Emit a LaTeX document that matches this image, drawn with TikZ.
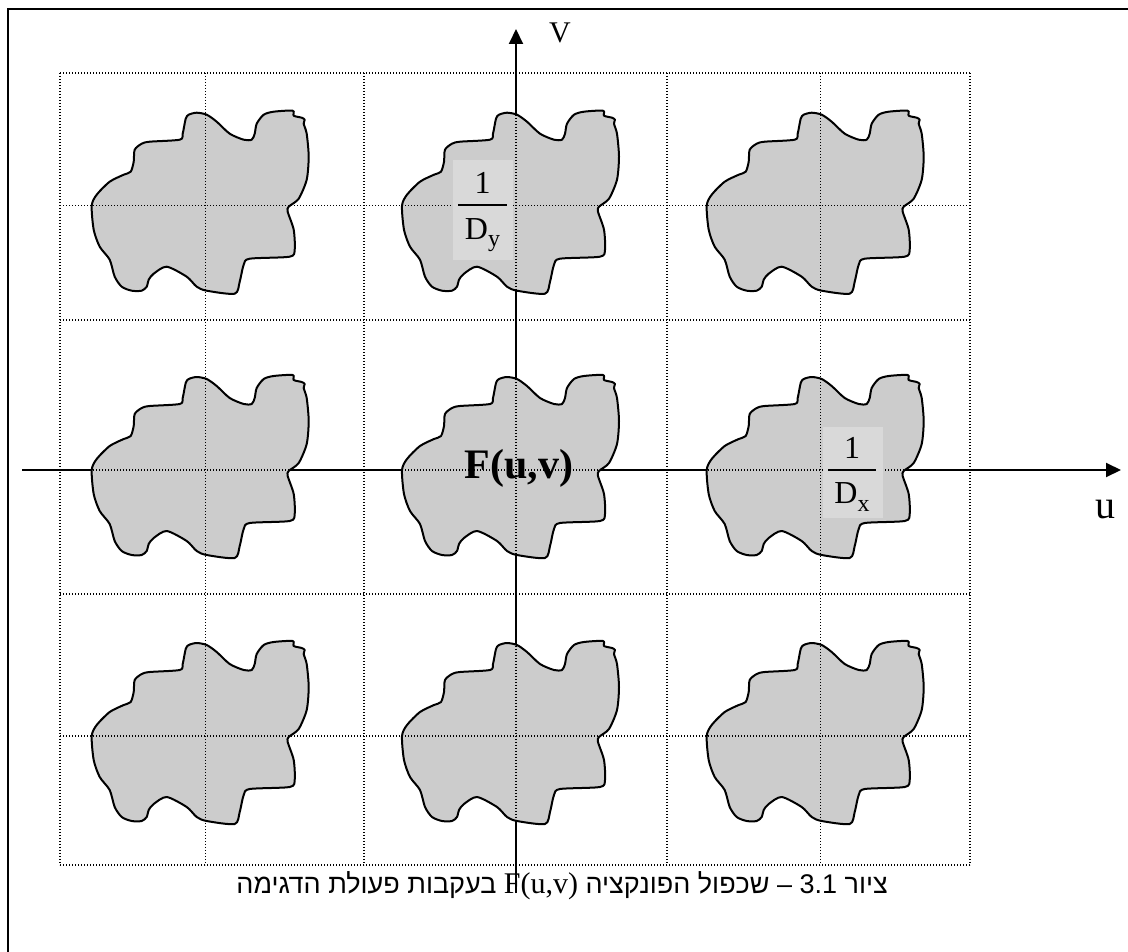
\documentclass[tikz,border=0pt]{standalone}
\usepackage{fontspec}
\setmainfont{Liberation Serif}
\newfontfamily\hebfont[Script=Hebrew]{Liberation Sans}
\TeXXeTstate=1
\usetikzlibrary{arrows.meta}

\tikzset{
  axisline/.style={line width=2pt,-{Triangle[length=15pt,width=14pt]}},
  gridline/.style={line width=1.3pt,dash pattern=on 1.3pt off 1.7pt},
  blobshape/.style={draw,line width=2pt,fill=black!20,line join=round},
  fracbox/.style={fill=black!15,draw=none,inner sep=0pt},
  fracnum/.style={font=\fontsize{32}{36}\selectfont,inner sep=0pt,anchor=base},
  axislabel/.style={inner sep=0pt,anchor=base},
  blob/.pic={
    \path[blobshape] plot[smooth cycle,tension=0.45] coordinates {
      (-114,0) (-109,-11) (-96,-24) (-82,-31) (-75,-34) (-72,-44) (-71,-56)
      (-64,-62) (-56,-64) (-26,-66) (-23,-72) (-20,-87) (-17,-91) (-9,-93)
      (1,-91) (11,-84) (24,-72) (38,-66) (46,-66) (49,-72) (51,-82) (58,-91)
      (68,-94) (87,-95) (88,-90) (96,-88) (99,-86) (98,-82) (101,-72)
      (103,-49) (101,-26) (93,-7) (83,1) (82,6) (88,24) (89,44) (84,51)
      (44,53) (38,59) (34,76) (29,88) (1,85) (-9,81) (-19,71) (-39,61)
      (-52,68) (-57,74) (-59,81) (-64,85) (-74,85) (-84,81) (-91,71)
      (-96,54) (-106,41) (-112,24)};
  }
}

\begin{document}
\begin{tikzpicture}[x=1pt,y=-1pt]
\useasboundingbox (0,0) rectangle (1128,952);

% axes (drawn first: the spectra cover them)
\coordinate (ustart) at (22,470);
\coordinate (uend) at (1121,470);
\coordinate (vstart) at (516,893);
\coordinate (vend) at (516,29);
\draw[axisline] (ustart) -- (uend);
\draw[axisline] (vstart) -- (vend);

% nine copies of the spectrum
\foreach \cx in {205.7,516,820.7}
  \foreach \cy in {205.7,470,736}
    \pic at (\cx,\cy) {blob};

% dotted sampling grid
\foreach \gx in {60,205.7,364,516,667,820.7,970}
  \draw[gridline] (\gx,73) -- (\gx,865);
\foreach \gy in {73,205.7,320,470,594,736,865}
  \draw[gridline] (60,\gy) -- (970,\gy);

% 1/D_y
\node[fracbox,minimum width=60pt,minimum height=100pt] (boxy) at (483,210) {};
\node[fracnum] (numy) at (482.5,194) {1};
\coordinate (bary1) at (458,205);
\coordinate (bary2) at (507,205);
\draw[line width=1.5pt] (bary1) -- (bary2);
\node[fracnum] (deny) at (482.5,240) {D\raisebox{-7pt}{\fontsize{24}{26}\selectfont y}};

% 1/D_x
\node[fracbox,minimum width=60pt,minimum height=91pt] (boxx) at (853,472.5) {};
\node[fracnum] (numx) at (852,458) {1};
\coordinate (barx1) at (828,470);
\coordinate (barx2) at (876,470);
\draw[line width=1.5pt] (barx1) -- (barx2);
\node[fracnum] (denx) at (852,503) {D\raisebox{-8pt}{\fontsize{24}{26}\selectfont x}};

% central spectrum label
\node[axislabel,font=\bfseries\fontsize{42}{46}\selectfont] (F) at (519,478) {F(u,v)};

% axis names
\node[axislabel,font=\fontsize{30}{34}\selectfont] (vlab) at (560,43) {V};
\node[axislabel,font=\fontsize{40}{44}\selectfont] (ulab) at (1105,518) {u};

% caption
\node[inner sep=0pt,anchor=base east,font=\hebfont\fontsize{27}{30}\selectfont] (caption) at (888,893)
  {\beginR ציור \beginL3.1\endL{} – שכפול הפונקציה \beginL{\rmfamily\fontsize{30}{32}\selectfont F(u,v)}\endL{} בעקבות פעולת הדגימה\endR};

% frame
\coordinate (fbl) at (8,952);
\coordinate (ftl) at (8,9);
\coordinate (ftr) at (1128,9);
\draw[line width=2pt] (fbl) -- (ftl) -- (ftr);
\end{tikzpicture}
\end{document}
